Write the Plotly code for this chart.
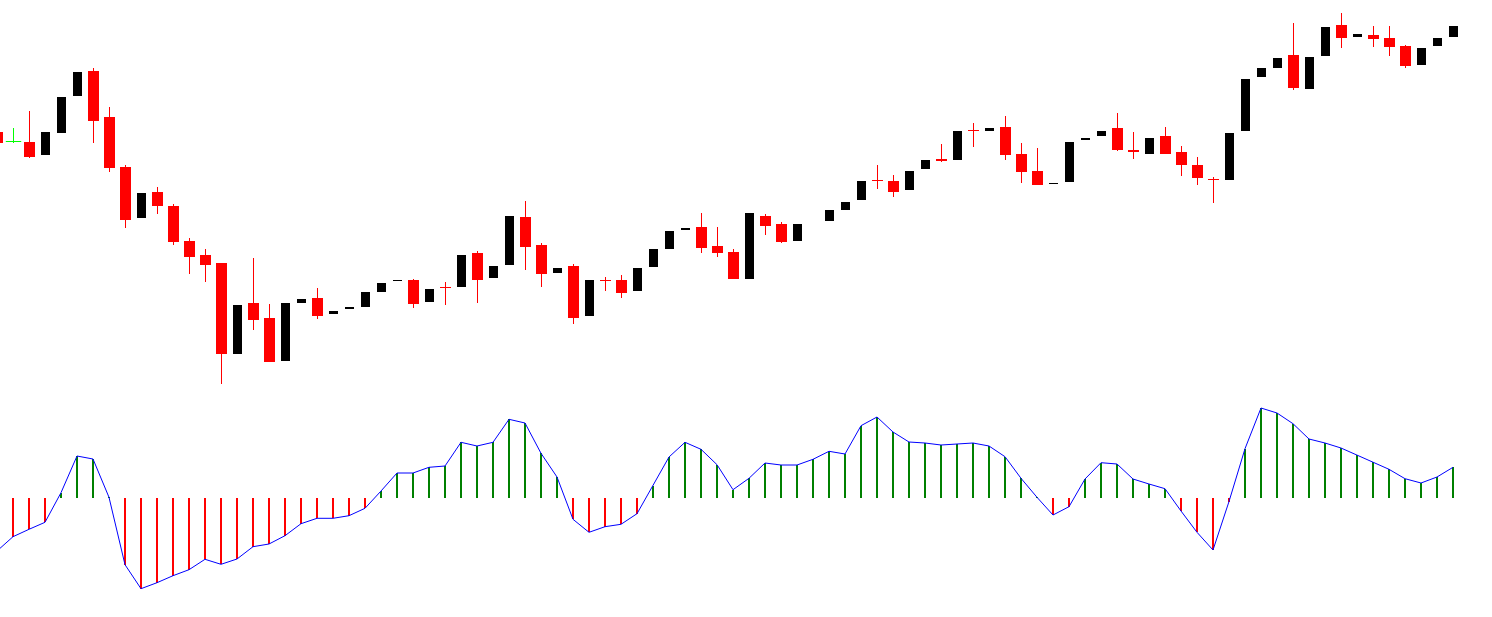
import plotly.graph_objects as go

# ---- price data (candles), one per bar index ----
open_ = [268, 258.5, 258, 245, 267, 304, 329, 283, 233, 182,
         208, 194, 159, 145, 137, 46, 97, 82, 39, 97,
         102, 86, 91, 93, 108, 119, 120, 98, 113, 113,
         147, 122, 135, 183, 155, 127, 134, 84, 120, 120,
         109, 133, 151, 170, 173, 154, 148, 121, 184, 176,
         159, 178, 179, 190, 200, 220, 219, 210, 231, 241,
         240, 270, 269, 273, 246, 229, 216, 218, 260, 264,
         272, 250, 246, 264, 248, 235, 221, 220, 269, 323,
         332, 345, 311, 344, 375, 363, 365, 362, 354, 335,
         354, 363]
high = [270, 272, 289, 268, 303, 328, 332, 293, 235, 207,
        213, 196, 162, 151, 137, 95, 142, 96, 97, 101,
        112, 89, 93, 108, 117, 120, 121, 111, 118, 145,
        149, 134, 184, 199, 157, 132, 136, 120, 123, 125,
        132, 151, 169, 172, 187, 173, 151, 187, 186, 178,
        176, 178, 190, 198, 219, 235, 225, 229, 240, 256,
        269, 277, 272, 284, 257, 252, 217, 258, 262, 269,
        287, 268, 262, 273, 254, 243, 223, 267, 321, 332,
        342, 377, 343, 373, 387, 366, 374, 374, 355, 352,
        362, 374]
low = [256, 257, 242, 245, 267, 304, 257, 228, 172, 182,
       186, 155, 126, 118, 16, 46, 70, 38, 39, 97,
       81, 86, 91, 93, 108, 119, 92, 98, 95, 113,
       97, 122, 135, 130, 113, 127, 76, 84, 109, 102,
       109, 133, 151, 170, 147, 143, 121, 121, 165, 157,
       159, 178, 179, 190, 200, 211, 203, 210, 231, 238,
       240, 253, 269, 240, 217, 215, 216, 218, 260, 264,
       249, 241, 246, 246, 224, 215, 197, 220, 269, 323,
       332, 310, 311, 344, 352, 363, 353, 344, 332, 335,
       354, 363]
close_ = [257, 258.5, 243, 268, 303, 328, 279, 232, 180, 207,
          194, 158, 143, 135, 46, 95, 80, 38, 97, 101,
          84, 89, 93, 108, 117, 120, 96, 111, 112, 145,
          120, 134, 184, 153, 126, 132, 82, 120, 119, 107,
          132, 151, 169, 172, 152, 147, 121, 187, 174, 158,
          176, 178, 190, 198, 219, 219, 208, 229, 240, 239,
          269, 269, 272, 245, 228, 215, 217, 258, 262, 269,
          250, 248, 262, 246, 235, 222, 220, 267, 321, 332,
          342, 312, 343, 373, 362, 366, 361, 353, 334, 352,
          362, 374]

# ---- oscillator values ----
osc = [-53, -38.7, -31.3, -24.3, 5.3, 42, 39, 0.7, -66.7, -90.7,
       -84.7, -77.7, -71.7, -61.3, -66.3, -61, -48.7, -46, -37.7, -25.7,
       -20.3, -20.3, -17.7, -10.3, 7, 25, 25, 30.7, 32, 55.7,
       52, 55.7, 78.7, 75, 44.7, 21, -21.3, -34.3, -28.7, -26.3,
       -15.7, 12, 41, 55.7, 48.7, 33.3, 8.3, 19.7, 35, 33,
       33, 38.7, 46.7, 44, 72.3, 81, 66, 56, 55, 53,
       53.7, 55, 52, 41.3, 19.7, 0.7, -17, -8.7, 19, 35.3,
       34, 19, 14, 9.3, -13, -34.3, -52, -3.5, 49.3, 90,
       85, 74.3, 59, 55, 50, 43, 36, 28.7, 19.3, 15,
       21, 30.7]

idx = list(range(len(open_)))

RED = "#FF0000"
BLACK = "#000000"
LIME = "#00FF00"
GREEN = "#008000"
BLUE = "#0000FF"

up = [i for i in idx if close_[i] > open_[i]]
down = [i for i in idx if close_[i] < open_[i]]
doji = [i for i in idx if close_[i] == open_[i] and high[i] > low[i]]


def wick_xy(ids):
    xs, ys = [], []
    for i in ids:
        xs += [i, i, None]
        ys += [low[i], high[i], None]
    return xs, ys


fig = go.Figure()

# wicks
for ids, col in ((down, RED), (up, BLACK), (doji, LIME)):
    wx, wy = wick_xy(ids)
    fig.add_trace(go.Scatter(x=wx, y=wy, mode="lines", line=dict(color=col, width=1),
                             hoverinfo="skip", xaxis="x", yaxis="y"))

# bodies
fig.add_trace(go.Bar(x=down, y=[open_[i] - close_[i] for i in down],
                     base=[close_[i] for i in down], width=11 / 16,
                     marker=dict(color=RED, line=dict(width=0)), xaxis="x", yaxis="y"))
fig.add_trace(go.Bar(x=up, y=[close_[i] - open_[i] for i in up],
                     base=[open_[i] for i in up], width=9 / 16,
                     marker=dict(color=BLACK, line=dict(width=0)), xaxis="x", yaxis="y"))
fig.add_trace(go.Scatter(x=doji, y=[open_[i] for i in doji], mode="markers",
                         marker=dict(symbol="line-ew", size=11, color=LIME,
                                     line=dict(color=LIME, width=1)),
                         xaxis="x", yaxis="y"))

# oscillator stems + line
fig.add_trace(go.Bar(x=idx, y=osc, width=2 / 16,
                     marker=dict(color=[GREEN if v >= 0 else RED for v in osc], line=dict(width=0)),
                     xaxis="x2", yaxis="y2"))
fig.add_trace(go.Scatter(x=idx, y=osc, mode="lines", line=dict(color=BLUE, width=1),
                         xaxis="x2", yaxis="y2"))

W, H = 1492, 617
fig.update_layout(
    width=W, height=H,
    margin=dict(l=0, r=0, t=0, b=0),
    paper_bgcolor="white", plot_bgcolor="white",
    showlegend=False, barmode="overlay", bargap=0,
    xaxis=dict(domain=[0, 1], range=[2.5 / 16, (W + 2.5) / 16], visible=False,
               anchor="y", fixedrange=True),
    yaxis=dict(domain=[1 - 395 / H, 1], range=[5, 400], visible=False,
               anchor="x", fixedrange=True),
    xaxis2=dict(domain=[0, 1], range=[3 / 16, (W + 3) / 16], visible=False,
                anchor="y2", fixedrange=True),
    yaxis2=dict(domain=[0, 1 - 400 / H], range=[-119, 98], visible=False,
                anchor="x2", fixedrange=True),
)

fig.write_html(
    "out.html",
    config={"displayModeBar": False},
    post_script="document.body.style.margin='0';document.body.style.overflow='hidden';",
)
